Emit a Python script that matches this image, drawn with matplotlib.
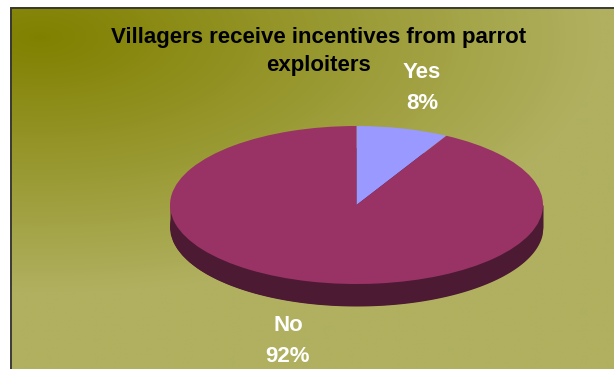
import matplotlib.pyplot as plt
import numpy as np

categories = ["Yes", "No"]
shares = [8, 92]
slice_colors = ["#9999FF", "#993366"]
side_color = "#4D1A33"
title_lines = ["Villagers receive incentives from parrot", "exploiters"]

W, H = 614, 369
plt.rcParams['font.family'] = ['Liberation Sans', 'DejaVu Sans']
fig = plt.figure(figsize=(W / 100, H / 100), dpi=100, facecolor="white")

# Background panel with a gradient spreading out of the top left corner
bg = fig.add_axes([0, 0, 1, 1], zorder=0)
xx, yy = np.meshgrid(np.arange(W), np.arange(H))
t = np.clip(np.hypot((xx - 30) / 570, (yy - 30) / 260), 0, 1)
dark = np.array([128, 128, 0])
light = np.array([176, 176, 96])
grad = (dark + (light - dark) * t[..., None]) / 255
bg.imshow(grad, extent=(10, W, H, 7), aspect="auto", interpolation="bilinear", zorder=1)
bg.set_xlim(0, W)
bg.set_ylim(H, 0)
bg.axis("off")
bg.plot([11, 11, W], [H, 8, 8], color="#333333", lw=1.3, zorder=2, solid_joinstyle="miter")

# Pie axes squashed so the unit circle comes out as the tilted ellipse
cx, cy, rx, ry = 356.5, 205, 186.5, 79
depth = 22 / ry
ax = fig.add_axes([(cx - rx) / W, 1 - (cy + ry) / H - depth * ry / H,
                   2 * rx / W, (2 + depth) * ry / H], zorder=1)
ax.pie(shares, colors=[side_color] * 2, startangle=90, counterclock=False,
       center=(0, -depth), radius=1, wedgeprops={"linewidth": 0})
x = np.linspace(-1, 1, 400)
ax.fill_between(x, -np.sqrt(1 - x ** 2) - depth, np.sqrt(1 - x ** 2) * 0, color=side_color, lw=0, zorder=2)
wedges, _ = ax.pie(shares, colors=slice_colors, startangle=90, counterclock=False,
                   radius=1, wedgeprops={"linewidth": 0, "zorder": 3})
ax.set_aspect("auto")
ax.set_xlim(-1, 1)
ax.set_ylim(-1 - depth, 1)

# Title, one text per line
for line, py in zip(title_lines, [37, 66]):
    fig.text(318.5 / W, 1 - py / H, line, ha="center", va="center", fontsize=16,
             fontweight="bold", color="black", zorder=5)

# Slice labels
label_pos = [(422, 88), (288, 341)]
for name, share, (px, py) in zip(categories, shares, label_pos):
    fig.text(px / W, 1 - py / H, f"{name}\n{share}%", ha="center", va="center",
             fontsize=16, fontweight="bold", color="white", linespacing=1.58, zorder=5)

fig.savefig("out.png", dpi=100, facecolor="white")
